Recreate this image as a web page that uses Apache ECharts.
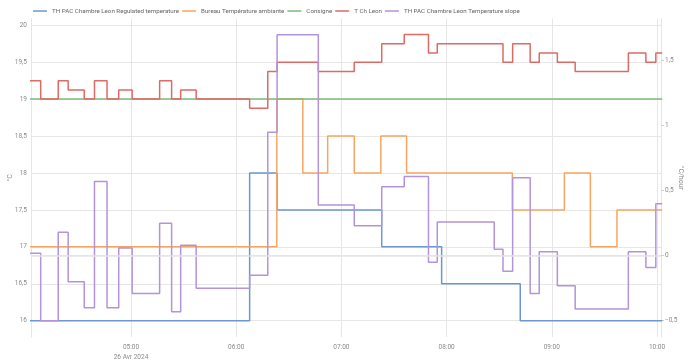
<!DOCTYPE html>
<html><head><meta charset="utf-8">
<script src="https://cdn.jsdelivr.net/npm/echarts@6/dist/echarts.min.js"></script>
<style>html,body{margin:0;padding:0;background:#fff}#c{width:690px;height:363px}</style>
</head><body><div id="c"></div>
<script>
// ---- data ----
const seriesNames = [
  'TH PAC Chambre Leon Regulated temperature',
  'Bureau Température ambiante',
  'Consigne',
  'T Ch Leon',
  'TH PAC Chambre Leon Temperature slope'
];
const regulatedTimes  = ['04:02:00','06:07:40','06:23:20','07:23:00','07:57:10','08:42:00','10:03:00'];
const regulatedValues = [16, 18, 17.5, 17, 16.5, 16, 16];

const bureauTimes  = ['04:02:00','06:23:10','06:38:00','06:52:10','07:07:20','07:22:30','07:37:10','08:37:30','09:07:10','09:22:00','09:37:10','10:03:00'];
const bureauValues = [17, 19, 18, 18.5, 18, 18.5, 18, 17.5, 18, 17, 17.5, 17.5];

const consigneTimes  = ['04:02:00','10:03:00'];
const consigneValues = [19, 19];

const leonTimes  = ['04:02:00','04:08:30','04:18:30','04:24:10','04:33:20','04:39:10','04:46:20','04:53:00','05:00:40','05:16:20','05:23:10','05:28:20','05:37:10','06:07:40','06:18:00','06:23:20','06:46:50','07:07:20','07:23:00','07:35:50','07:49:40','07:54:40','08:32:10','08:37:40','08:47:40','08:52:50','09:03:10','09:13:20','09:43:40','09:53:40','09:59:20','10:03:00'];
const leonValues = [19.25, 19, 19.25, 19.125, 19, 19.25, 19, 19.125, 19, 19.25, 19, 19.125, 19, 18.875, 19.375, 19.5, 19.375, 19.5, 19.75, 19.875, 19.625, 19.75, 19.5, 19.75, 19.5, 19.625, 19.5, 19.375, 19.625, 19.5, 19.625, 19.625];

const slopeTimes  = ['04:02:00','04:08:30','04:18:30','04:24:10','04:33:20','04:39:10','04:46:20','04:53:00','05:00:40','05:16:20','05:23:10','05:28:20','05:37:10','06:07:40','06:18:00','06:23:20','06:46:50','07:07:20','07:23:00','07:35:50','07:49:40','07:54:40','08:27:10','08:32:10','08:37:40','08:47:40','08:52:50','09:03:10','09:13:20','09:43:40','09:53:40','09:59:20','10:03:00'];
const slopeValues = [0.02, -0.50, 0.18, -0.20, -0.40, 0.57, -0.40, 0.06, -0.29, 0.25, -0.43, 0.08, -0.25, -0.15, 0.95, 1.70, 0.39, 0.23, 0.53, 0.61, -0.05, 0.26, 0.05, -0.12, 0.60, -0.29, 0.03, -0.23, -0.41, 0.03, -0.09, 0.40, 0.40];

const windowStart = '04:02:58';
const windowEnd   = '10:02:17';
const dateLabel = '26 Avr 2024';

// ---- helpers ----
function toMs(t){ const p = t.split(':').map(Number); return new Date(2024, 3, 26, p[0], p[1], p[2] || 0).getTime(); }
function pairs(times, values){ return times.map((t, i) => [toMs(t), values[i]]); }
function comma(v){ return String(+v.toFixed(2)).replace('.', ',').replace('-', '−'); }

const colors = ['#6b97d2', '#f6a662', '#7cba7a', '#dd6a64', '#b393d9'];
const FONT = 'Roboto';
const labelColor = '#8a8a8a';
const gridColor = '#e6e6e6';

function lineSeries(idx, times, values, yIdx){
  return {
    name: seriesNames[idx], type: 'line', step: 'end', yAxisIndex: yIdx,
    data: pairs(times, values), symbol: 'none', showSymbol: false,
    lineStyle: { width: 1.5, color: colors[idx] }, itemStyle: { color: colors[idx] },
    emphasis: { disabled: true }, animation: false
  };
}

const chart = echarts.init(document.getElementById('c'), null, { renderer: 'canvas' });
const slope = lineSeries(4, slopeTimes, slopeValues, 1);
slope.markLine = { silent: true, symbol: 'none', label: { show: false },
  lineStyle: { color: '#e4e4e4', width: 1.5, type: 'solid' }, data: [{ yAxis: 0 }] };

chart.setOption({
  animation: false,
  textStyle: { fontFamily: FONT },
  color: colors,
  grid: { left: 31, right: 29, top: 18.7, bottom: 26, containLabel: false, outerBoundsMode: 'none' },
  legend: {
    top: 3, left: 28, itemWidth: 14, itemHeight: 8, itemGap: 3,
    icon: 'path://M0,3.6 L15,3.6 L15,5.2 L0,5.2 Z',
    textStyle: { fontFamily: FONT, fontSize: 6.2, color: '#666' },
    data: seriesNames
  },
  xAxis: {
    type: 'time', min: toMs(windowStart), max: toMs(windowEnd),
    minInterval: 3600000, maxInterval: 3600000,
    axisLine: { show: true, lineStyle: { color: gridColor } },
    axisTick: { show: false },
    splitLine: { show: true, lineStyle: { color: gridColor } },
    axisLabel: {
      showMinLabel: false, showMaxLabel: false,
      fontFamily: FONT, fontSize: 6.5, color: labelColor, margin: 5, lineHeight: 10,
      formatter: function (v) {
        const d = new Date(v);
        const s = String(d.getHours()).padStart(2, '0') + ':' + String(d.getMinutes()).padStart(2, '0');
        return (d.getHours() === 5 && d.getMinutes() === 0) ? s + '\n' + dateLabel : s;
      }
    }
  },
  yAxis: [
    {
      type: 'value', min: 15.779, max: 20.089, splitNumber: 8,
      name: '°C', nameLocation: 'middle', nameGap: 17, nameRotate: 90, nameMoveOverlap: false,
      nameTextStyle: { fontFamily: FONT, fontSize: 7, color: labelColor },
      axisLine: { show: true, lineStyle: { color: gridColor } },
      axisTick: { show: false },
      splitLine: { show: true, showMinLine: false, showMaxLine: false, lineStyle: { color: gridColor } },
      axisLabel: { showMinLabel: false, showMaxLabel: false, fontFamily: FONT, fontSize: 6.5, color: labelColor, margin: 4, formatter: comma }
    },
    {
      type: 'value', min: -0.625, max: 1.823, splitNumber: 5,
      name: '°C/hour', nameLocation: 'middle', nameGap: 16, nameRotate: -90, nameMoveOverlap: false,
      nameTextStyle: { fontFamily: FONT, fontSize: 7, color: labelColor },
      axisLine: { show: true, lineStyle: { color: gridColor } },
      axisTick: { show: true, length: 3, lineStyle: { color: '#cfcfcf' } },
      splitLine: { show: false },
      axisLabel: { showMinLabel: false, showMaxLabel: false, fontFamily: FONT, fontSize: 6.5, color: labelColor, margin: 4, formatter: comma }
    }
  ],
  series: [
    lineSeries(0, regulatedTimes, regulatedValues, 0),
    lineSeries(1, bureauTimes, bureauValues, 0),
    lineSeries(2, consigneTimes, consigneValues, 0),
    lineSeries(3, leonTimes, leonValues, 0),
    slope
  ]
});
</script></body></html>
